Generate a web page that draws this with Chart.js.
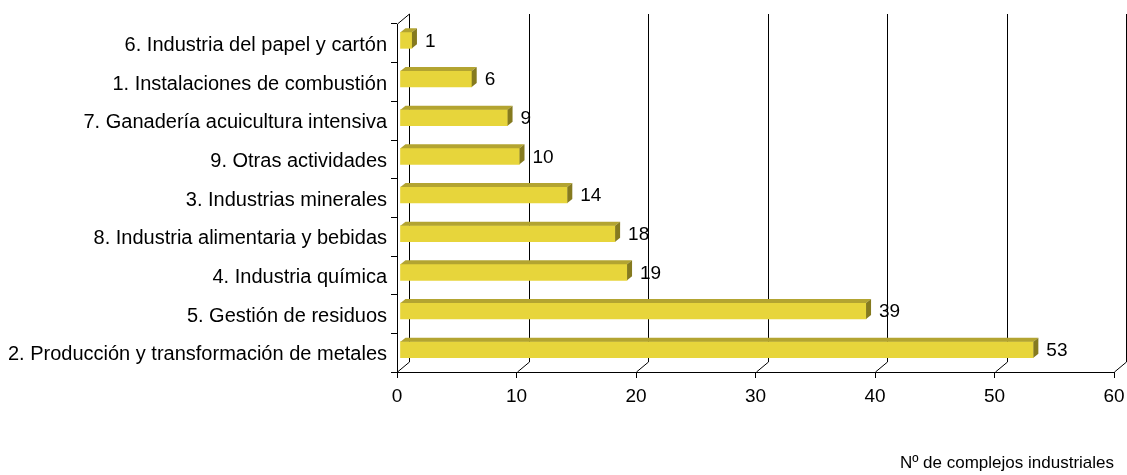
<!DOCTYPE html>
<html>
<head>
<meta charset="utf-8">
<script src="https://cdn.jsdelivr.net/npm/chart.js@4"></script>
<style>
  html, body { margin: 0; padding: 0; background: #ffffff; }
  #wrap { width: 1127px; height: 475px; position: relative; }
</style>
</head>
<body>
<div id="wrap"><canvas id="c" width="1127" height="475"></canvas></div>
<script>
const categories = [
  "6. Industria del papel y cartón",
  "1. Instalaciones de combustión",
  "7. Ganadería acuicultura intensiva",
  "9. Otras actividades",
  "3. Industrias minerales",
  "8. Industria alimentaria y bebidas",
  "4. Industria química",
  "5. Gestión de residuos",
  "2. Producción y transformación de metales"
];
const values = [1, 6, 9, 10, 14, 18, 19, 39, 53];
const xTicks = [0, 10, 20, 30, 40, 50, 60];
const axisTitle = "Nº de complejos industriales";

const FONT = "'Liberation Sans', Arial, sans-serif";
const DEPTH_X = 12, DEPTH_Y = 10;     // back wall offset
const BAR_OFF = 3;                    // bar front plane offset
const FACE_X = 5, FACE_Y = 4;         // bar thickness (3D)
const FRONT = '#E7D53B', TOP = '#B3A431', SIDE = '#857A1F';

const threeD = {
  id: 'threeD',
  beforeDatasetsDraw(chart) {
    const ctx = chart.ctx, a = chart.chartArea, xs = chart.scales.x;
    ctx.save();
    ctx.strokeStyle = '#000';
    ctx.lineWidth = 1;
    ctx.beginPath();
    xTicks.forEach(v => {
      const px = Math.round(xs.getPixelForValue(v)) + 0.5;
      ctx.moveTo(px + DEPTH_X, a.bottom - DEPTH_Y);
      ctx.lineTo(px + DEPTH_X, a.top - DEPTH_Y);
      ctx.moveTo(px, a.bottom);
      ctx.lineTo(px + DEPTH_X, a.bottom - DEPTH_Y);
    });
    const lx = Math.round(a.left) + 0.5;
    ctx.moveTo(lx, a.top);
    ctx.lineTo(lx + DEPTH_X, a.top - DEPTH_Y);
    ctx.stroke();
    ctx.restore();
    ctx.save();
    ctx.translate(BAR_OFF, -BAR_OFF);
  },
  afterDatasetsDraw(chart) {
    const ctx = chart.ctx;
    ctx.restore();
    const meta = chart.getDatasetMeta(0);
    ctx.save();
    meta.data.forEach((bar, i) => {
      const p = bar.getProps(['x', 'y', 'base', 'height'], true);
      const left = Math.min(p.base, p.x) + BAR_OFF;
      const right = Math.max(p.base, p.x) + BAR_OFF;
      const top = p.y - p.height / 2 - BAR_OFF;
      const bottom = p.y + p.height / 2 - BAR_OFF;
      ctx.fillStyle = TOP;
      ctx.beginPath();
      ctx.moveTo(left, top);
      ctx.lineTo(left + FACE_X, top - FACE_Y);
      ctx.lineTo(right + FACE_X, top - FACE_Y);
      ctx.lineTo(right, top);
      ctx.closePath();
      ctx.fill();
      ctx.fillStyle = SIDE;
      ctx.beginPath();
      ctx.moveTo(right, top);
      ctx.lineTo(right + FACE_X, top - FACE_Y);
      ctx.lineTo(right + FACE_X, bottom - FACE_Y);
      ctx.lineTo(right, bottom);
      ctx.closePath();
      ctx.fill();
      ctx.fillStyle = '#000';
      ctx.font = '19px ' + FONT;
      ctx.textAlign = 'left';
      ctx.textBaseline = 'middle';
      ctx.fillText(String(values[i]), right + 13, p.y - BAR_OFF + 1);
    });
    ctx.restore();
  }
};

new Chart(document.getElementById('c'), {
  type: 'bar',
  data: {
    labels: categories,
    datasets: [{
      data: values,
      backgroundColor: FRONT,
      borderWidth: 0,
      barThickness: 16
    }]
  },
  options: {
    indexAxis: 'y',
    responsive: false,
    animation: false,
    devicePixelRatio: 1,
    layout: { padding: { top: 24, right: 13, left: 0, bottom: 0 } },
    plugins: { legend: { display: false }, tooltip: { enabled: false } },
    scales: {
      x: {
        min: 0, max: 60,
        afterBuildTicks(s) { s.ticks = xTicks.map(v => ({ value: v })); },
        afterFit(s) { s.height = 103; s.paddingLeft = 0; s.paddingRight = 0; },
        grid: { drawOnChartArea: false, drawTicks: true, tickLength: 6, color: '#000' },
        border: { color: '#000', width: 1 },
        ticks: { color: '#000', font: { family: FONT, size: 19 }, padding: 7, maxRotation: 0 },
        title: { display: true, text: axisTitle, align: 'end', color: '#000',
                 font: { family: FONT, size: 17 }, padding: { top: 0, bottom: 1 } }
      },
      y: {
        afterFit(s) { s.width = 397; s.paddingTop = 0; s.paddingBottom = 0; },
        grid: { drawOnChartArea: false, drawTicks: true, tickLength: 6, color: '#000', offset: true },
        border: { color: '#000', width: 1 },
        ticks: { color: '#000', font: { family: FONT, size: 20 }, padding: 4, autoSkip: false, labelOffset: 2 }
      }
    }
  },
  plugins: [threeD]
});
</script>
</body>
</html>
